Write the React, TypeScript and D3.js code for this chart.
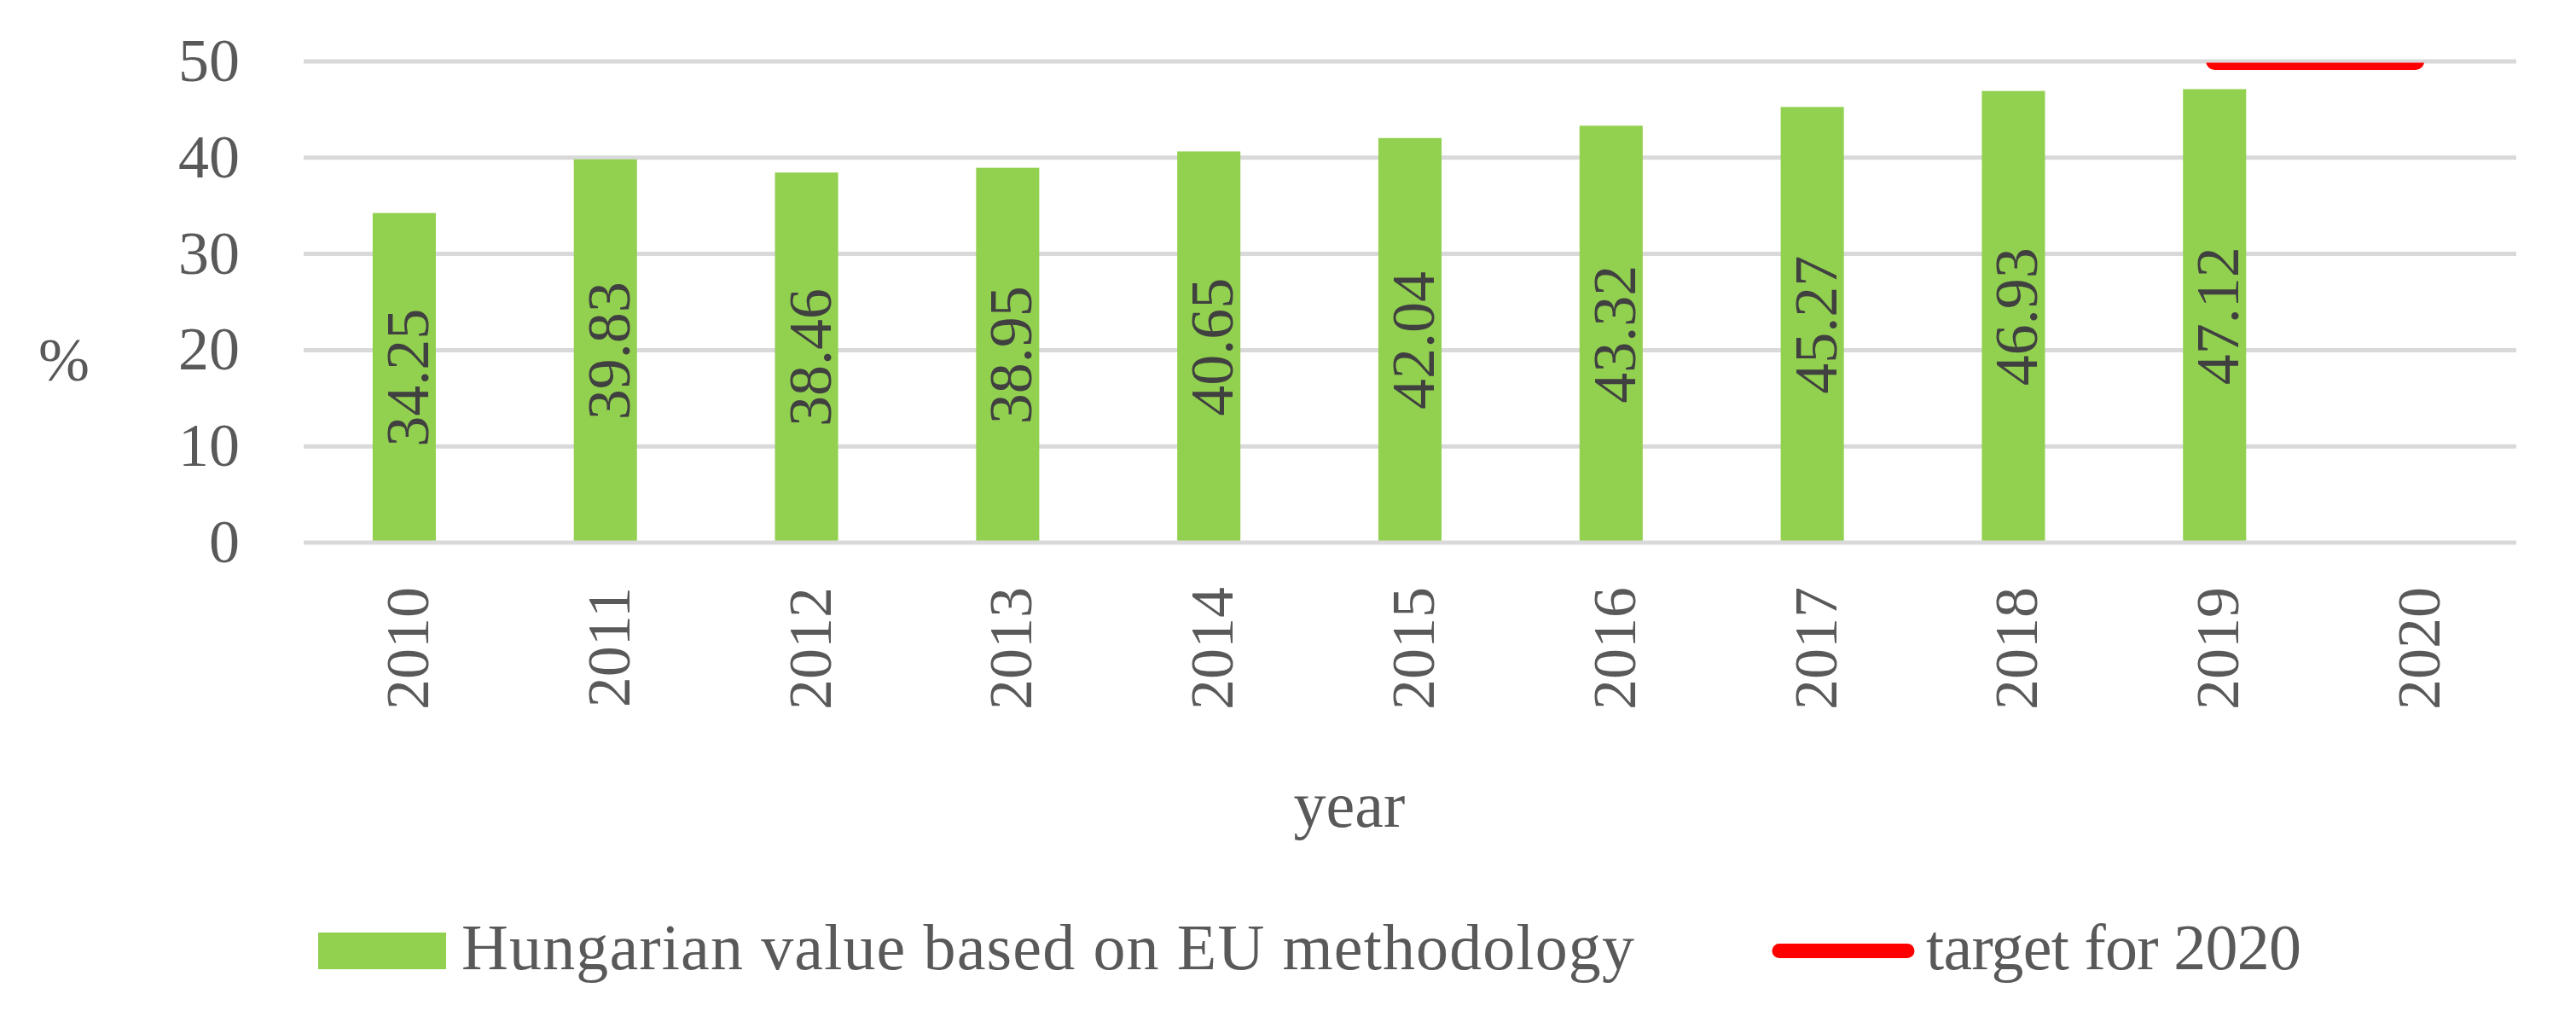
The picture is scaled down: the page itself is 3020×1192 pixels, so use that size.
import React from 'react';
import * as d3 from 'd3';

const years = ['2010', '2011', '2012', '2013', '2014', '2015', '2016', '2017', '2018', '2019', '2020'];
const values: (number | null)[] = [34.25, 39.83, 38.46, 38.95, 40.65, 42.04, 43.32, 45.27, 46.93, 47.12, null];
const targetYears = ['2019', '2020'];
const targetValues = [50, 50];
const yTicks = [0, 10, 20, 30, 40, 50];
const seriesNames = ['Hungarian value based on EU methodology', 'target for 2020'];
const yAxisTitle = '%';
const xAxisTitle = 'year';

const W = 3020;
const H = 1192;
const FONT = "'Liberation Serif', 'Times New Roman', serif";
const GREEN = '#92D050';
const RED = '#FF0000';
const GRID = '#D9D9D9';
const TICK_COLOR = '#595959';
const LABEL_COLOR = '#404040';

export default function App() {
  const plotLeft = 356;
  const plotRight = 2950;
  const plotTop = 72;
  const plotBottom = 636;

  const x = d3.scaleBand<string>().domain(years).range([plotLeft, plotRight]).paddingInner(0.686).paddingOuter(0.343);
  const y = d3.scaleLinear().domain([0, 50]).range([plotBottom, plotTop]);
  const bw = x.bandwidth();
  const cx = (yr: string) => (x(yr) as number) + bw / 2;

  const bars = years.map((yr, i) => ({ yr, v: values[i] })).filter((d) => d.v !== null) as { yr: string; v: number }[];
  const target = targetYears.map((yr, i) => ({ yr, v: targetValues[i] }));
  const line = d3
    .line<{ yr: string; v: number }>()
    .x((d) => cx(d.yr))
    .y((d) => y(d.v));

  return (
    <>
      <style>{`body{margin:0;overflow:hidden;background:#fff}`}</style>
      <svg width={W} height={H} viewBox={`0 0 ${W} ${H}`} style={{ display: 'block', background: '#fff' }} fontFamily={FONT}>
        <defs>
          <clipPath id="plotClip">
            <rect x={plotLeft} y={y(50) + 1.5} width={plotRight - plotLeft} height={plotBottom - y(50)} />
          </clipPath>
        </defs>
        {/* gridlines */}
        {yTicks.filter((t) => t !== 0).map((t) => (
          <line key={t} x1={plotLeft} x2={plotRight} y1={y(t)} y2={y(t)} stroke={GRID} strokeWidth={5} />
        ))}
        {/* bars */}
        {bars.map((d) => (
          <rect key={d.yr} x={x(d.yr)} y={y(d.v)} width={bw} height={y(0) - y(d.v)} fill={GREEN} />
        ))}
        {/* baseline axis */}
        <line x1={plotLeft} x2={plotRight} y1={y(0)} y2={y(0)} stroke={GRID} strokeWidth={5} />
        {/* target line */}
        <path d={line(target) || ''} fill="none" stroke={RED} strokeWidth={20} strokeLinecap="round" clipPath="url(#plotClip)" />
        {/* data labels */}
        {bars.map((d) => (
          <text
            key={'l' + d.yr}
            transform={`translate(${cx(d.yr)},${(y(d.v) + y(0)) / 2}) rotate(-90)`}
            textAnchor="middle"
            dy={28}
            fontSize={72}
            fill={LABEL_COLOR}
          >
            {d.v.toFixed(2)}
          </text>
        ))}
        {/* y tick labels */}
        {yTicks.map((t) => (
          <text key={'t' + t} x={281} y={y(t) + 23} textAnchor="end" fontSize={72} fill={TICK_COLOR}>
            {t}
          </text>
        ))}
        {/* x tick labels */}
        {years.map((yr) => (
          <text
            key={'x' + yr}
            transform={`translate(${cx(yr)},688) rotate(-90)`}
            textAnchor="end"
            dy={28}
            fontSize={72}
            fill={TICK_COLOR}
          >
            {yr}
          </text>
        ))}
        {/* axis titles */}
        <text x={45} y={446} fontSize={72} fill={TICK_COLOR}>
          {yAxisTitle}
        </text>
        <text x={1582} y={969} textAnchor="middle" fontSize={76} fill={TICK_COLOR}>
          {xAxisTitle}
        </text>
        {/* legend */}
        <rect x={373} y={1093} width={150} height={43} fill={GREEN} />
        <text x={541} y={1136} fontSize={76} fill={TICK_COLOR} textLength={1375} lengthAdjust="spacing">
          {seriesNames[0]}
        </text>
        <line x1={2086} x2={2236} y1={1114.5} y2={1114.5} stroke={RED} strokeWidth={17} strokeLinecap="round" />
        <text x={2258} y={1136} fontSize={76} fill={TICK_COLOR} textLength={440} lengthAdjust="spacing">
          {seriesNames[1]}
        </text>
      </svg>
    </>
  );
}
